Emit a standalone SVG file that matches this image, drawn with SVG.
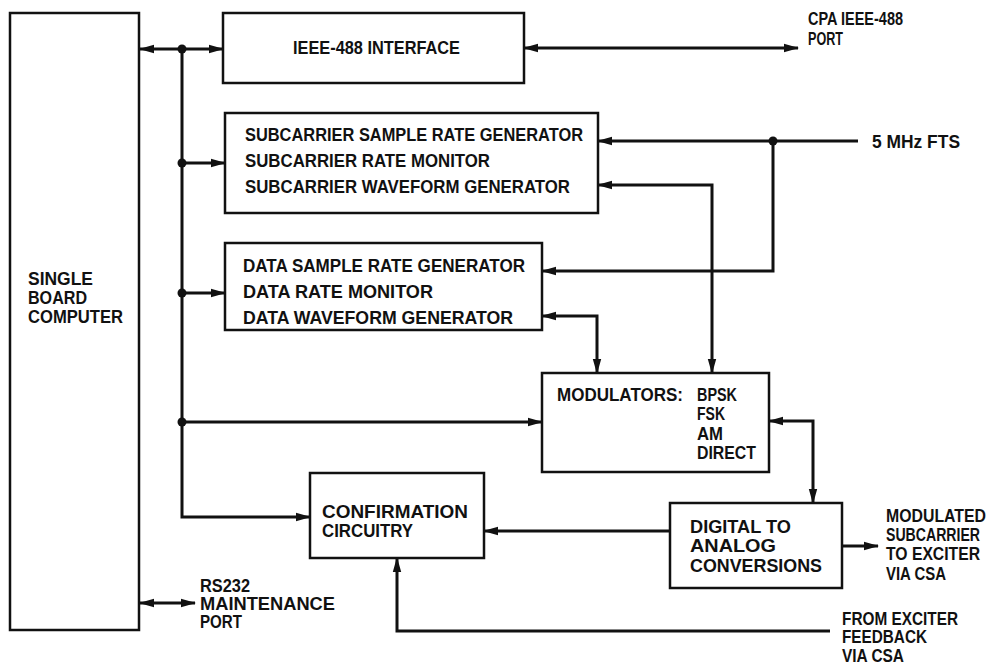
<svg xmlns="http://www.w3.org/2000/svg" width="1004" height="666" viewBox="0 0 1004 666">
<style>
.box{fill:#fff;stroke:#111;stroke-width:2.5}
.t{font-family:"Liberation Sans",Arial,sans-serif;font-weight:bold;font-size:18px;fill:#111}
.c{fill:none;stroke:#111;stroke-width:3}
.dot{fill:#111}
</style>
<defs>
<marker id="ar" markerUnits="userSpaceOnUse" markerWidth="16" markerHeight="12" refX="14" refY="6" orient="auto-start-reverse">
<path d="M0,1.8 L15,6 L0,10.2 z" fill="#111"/>
</marker>
</defs>
<rect width="1004" height="666" fill="#fff"/>

<g id="connectors">
<path class="c" d="M140,49 H223" marker-start="url(#ar)" marker-end="url(#ar)"/>
<path class="c" d="M524,48 H798" marker-start="url(#ar)" marker-end="url(#ar)"/>
<path class="c" d="M182,49 V517 H310" marker-end="url(#ar)"/>
<path class="c" d="M182,163 H225" marker-end="url(#ar)"/>
<path class="c" d="M182,293 H225" marker-end="url(#ar)"/>
<path class="c" d="M182,422 H542" marker-end="url(#ar)"/>
<path class="c" d="M858,141 H598" marker-end="url(#ar)"/>
<path class="c" d="M773,141 V271 H542" marker-end="url(#ar)"/>
<path class="c" d="M712,373 V185 H598" marker-start="url(#ar)" marker-end="url(#ar)"/>
<path class="c" d="M597,373 V316 H542" marker-start="url(#ar)" marker-end="url(#ar)"/>
<path class="c" d="M813,503 V421 H769" marker-start="url(#ar)" marker-end="url(#ar)"/>
<path class="c" d="M670,531 H484" marker-end="url(#ar)"/>
<path class="c" d="M842,546 H878" marker-end="url(#ar)"/>
<path class="c" d="M830,631 H397 V558" marker-end="url(#ar)"/>
<path class="c" d="M140,603 H195" marker-start="url(#ar)" marker-end="url(#ar)"/>
<circle class="dot" cx="182" cy="49" r="4.5"/>
<circle class="dot" cx="182" cy="163" r="4.5"/>
<circle class="dot" cx="182" cy="293" r="4.5"/>
<circle class="dot" cx="182" cy="422" r="4.5"/>
<circle class="dot" cx="773" cy="141" r="4.5"/>
</g>

<g id="sbc">
<rect class="box" x="10" y="13" width="129" height="617"/>
<text class="t" x="28" y="285" textLength="65" lengthAdjust="spacingAndGlyphs">SINGLE</text>
<text class="t" x="28" y="304" textLength="59" lengthAdjust="spacingAndGlyphs">BOARD</text>
<text class="t" x="28" y="323" textLength="95" lengthAdjust="spacingAndGlyphs">COMPUTER</text>
</g>

<g id="ieee">
<rect class="box" x="223" y="13" width="301" height="70"/>
<text class="t" x="293" y="54" textLength="167" lengthAdjust="spacingAndGlyphs">IEEE-488 INTERFACE</text>
</g>

<g id="cpa-port">
<text class="t" x="808" y="25" textLength="95" lengthAdjust="spacingAndGlyphs">CPA IEEE-488</text>
<text class="t" x="808" y="45" textLength="35" lengthAdjust="spacingAndGlyphs">PORT</text>
</g>

<g id="subcarrier">
<rect class="box" x="225" y="113" width="373" height="100"/>
<text class="t" x="245" y="141" textLength="338" lengthAdjust="spacingAndGlyphs">SUBCARRIER SAMPLE RATE GENERATOR</text>
<text class="t" x="245" y="167" textLength="245" lengthAdjust="spacingAndGlyphs">SUBCARRIER RATE MONITOR</text>
<text class="t" x="245" y="193" textLength="325" lengthAdjust="spacingAndGlyphs">SUBCARRIER WAVEFORM GENERATOR</text>
</g>

<g id="fts">
<text class="t" x="872" y="148" textLength="88" lengthAdjust="spacingAndGlyphs">5 MHz FTS</text>
</g>

<g id="data">
<rect class="box" x="225" y="243" width="317" height="87"/>
<text class="t" x="243" y="272" textLength="282" lengthAdjust="spacingAndGlyphs">DATA SAMPLE RATE GENERATOR</text>
<text class="t" x="243" y="298" textLength="190" lengthAdjust="spacingAndGlyphs">DATA RATE MONITOR</text>
<text class="t" x="243" y="324" textLength="270" lengthAdjust="spacingAndGlyphs">DATA WAVEFORM GENERATOR</text>
</g>

<g id="modulators">
<rect class="box" x="542" y="373" width="227" height="99"/>
<text class="t" x="557" y="401" textLength="126" lengthAdjust="spacingAndGlyphs">MODULATORS:</text>
<text class="t" x="697" y="401" textLength="40" lengthAdjust="spacingAndGlyphs">BPSK</text>
<text class="t" x="697" y="420" textLength="28" lengthAdjust="spacingAndGlyphs">FSK</text>
<text class="t" x="697" y="440" textLength="26" lengthAdjust="spacingAndGlyphs">AM</text>
<text class="t" x="697" y="459" textLength="59" lengthAdjust="spacingAndGlyphs">DIRECT</text>
</g>

<g id="confirmation">
<rect class="box" x="310" y="473" width="174" height="85"/>
<text class="t" x="322" y="518" textLength="146" lengthAdjust="spacingAndGlyphs">CONFIRMATION</text>
<text class="t" x="322" y="537" textLength="91" lengthAdjust="spacingAndGlyphs">CIRCUITRY</text>
</g>

<g id="dac">
<rect class="box" x="670" y="503" width="172" height="85"/>
<text class="t" x="690" y="533" textLength="101" lengthAdjust="spacingAndGlyphs">DIGITAL TO</text>
<text class="t" x="690" y="552" textLength="86" lengthAdjust="spacingAndGlyphs">ANALOG</text>
<text class="t" x="690" y="572" textLength="132" lengthAdjust="spacingAndGlyphs">CONVERSIONS</text>
</g>

<g id="modulated-out">
<text class="t" x="886" y="522" textLength="100" lengthAdjust="spacingAndGlyphs">MODULATED</text>
<text class="t" x="886" y="541" textLength="94" lengthAdjust="spacingAndGlyphs">SUBCARRIER</text>
<text class="t" x="886" y="560" textLength="94" lengthAdjust="spacingAndGlyphs">TO EXCITER</text>
<text class="t" x="886" y="580" textLength="60" lengthAdjust="spacingAndGlyphs">VIA CSA</text>
</g>

<g id="feedback-in">
<text class="t" x="842" y="625" textLength="116" lengthAdjust="spacingAndGlyphs">FROM EXCITER</text>
<text class="t" x="842" y="643" textLength="85" lengthAdjust="spacingAndGlyphs">FEEDBACK</text>
<text class="t" x="842" y="662" textLength="62" lengthAdjust="spacingAndGlyphs">VIA CSA</text>
</g>

<g id="rs232">
<text class="t" x="200" y="592" textLength="50" lengthAdjust="spacingAndGlyphs">RS232</text>
<text class="t" x="200" y="610" textLength="135" lengthAdjust="spacingAndGlyphs">MAINTENANCE</text>
<text class="t" x="200" y="628" textLength="42" lengthAdjust="spacingAndGlyphs">PORT</text>
</g>
</svg>
